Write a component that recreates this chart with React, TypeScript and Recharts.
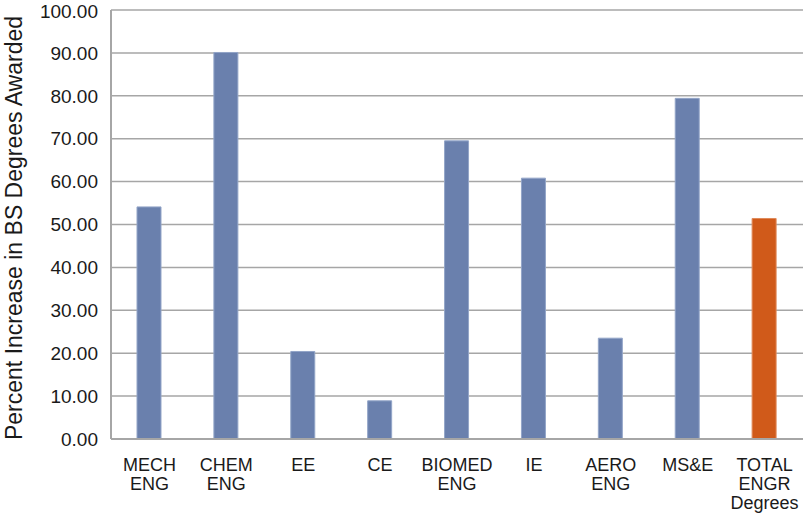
import { BarChart, Bar, XAxis, YAxis, CartesianGrid, Cell } from 'recharts'

const categories = ['MECH\nENG', 'CHEM\nENG', 'EE', 'CE', 'BIOMED\nENG', 'IE', 'AERO\nENG', 'MS&E', 'TOTAL\nENGR\nDegrees']
const increases = [54.1, 90.1, 20.4, 8.9, 69.5, 60.8, 23.5, 79.4, 51.4]
const yTicks = [0, 10, 20, 30, 40, 50, 60, 70, 80, 90, 100]
const yTitle = 'Percent Increase in BS Degrees Awarded'

const data = categories.map((name, i) => ({ name, value: increases[i] }))

const FONT = '"Liberation Sans", Arial, Helvetica, sans-serif'
const GRID = '#a6a6a6'
const BLUE = '#6a80ad'
const ORANGE = '#d05a1a'

function CategoryTick({ x, y, payload }: any) {
  const lines = String(payload.value).split('\n')
  return (
    <text x={x} y={y + 24} textAnchor="middle" fontSize={18} fontFamily={FONT} fill="#1a1a1a">
      {lines.map((line, i) => (
        <tspan key={i} x={x} dy={i === 0 ? 0 : 19}>
          {line}
        </tspan>
      ))}
    </text>
  )
}

function YTitle() {
  return (
    <text
      x={14}
      y={228}
      transform="rotate(-90, 14, 228)"
      textAnchor="middle"
      dominantBaseline="central"
      fontSize={23}
      fontFamily={FONT}
      fill="#1a1a1a"
    >
      {yTitle}
    </text>
  )
}

export default function App() {
  return (
    <div style={{ position: 'absolute', left: 0, top: 0, width: 805, height: 516, background: '#fff' }}>
      <BarChart width={805} height={516} data={data} margin={{ top: 10, right: 2, bottom: 0, left: 0 }} barCategoryGap={0}>
        <CartesianGrid vertical={false} stroke={GRID} strokeWidth={1.5} />
        <XAxis
          dataKey="name"
          interval={0}
          tick={<CategoryTick />}
          tickLine={false}
          axisLine={{ stroke: GRID, strokeWidth: 2 }}
          height={77}
        />
        <YAxis
          domain={[0, 100]}
          ticks={yTicks}
          tickFormatter={(v: number) => v.toFixed(2)}
          tick={{ fontSize: 19, fontFamily: FONT, fill: '#1a1a1a' }}
          tickLine={false}
          tickMargin={7}
          axisLine={{ stroke: GRID, strokeWidth: 2 }}
          width={111}
          label={<YTitle />}
        />
        <YAxis
          yAxisId="right"
          orientation="right"
          domain={[0, 100]}
          tick={false}
          tickLine={false}
          axisLine={{ stroke: GRID, strokeWidth: 2 }}
          width={0}
        />
        <Bar dataKey="value" barSize={24} isAnimationActive={false}>
          {data.map((d, i) => (
            <Cell key={d.name} fill={i === data.length - 1 ? ORANGE : BLUE} stroke={i === data.length - 1 ? '#e08a5a' : '#93a5c8'} strokeWidth={1} />
          ))}
        </Bar>
      </BarChart>
    </div>
  )
}
